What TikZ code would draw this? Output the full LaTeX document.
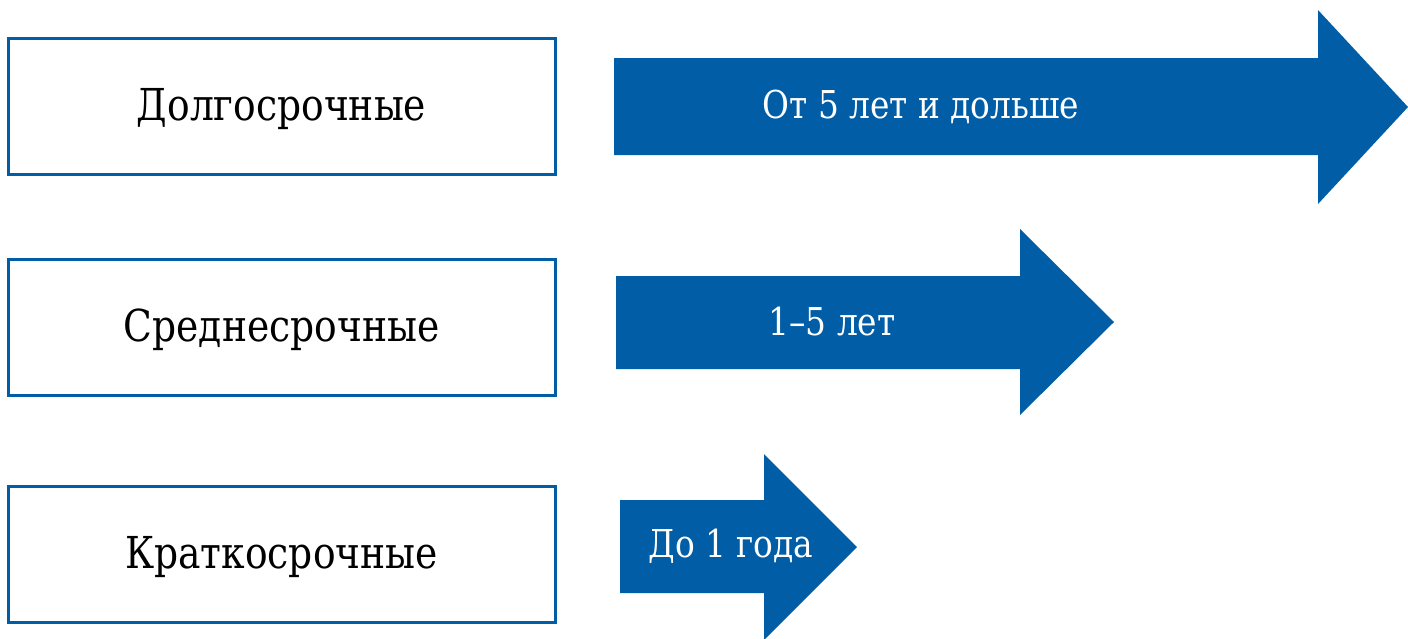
\documentclass[tikz,border=0pt]{standalone}
\usepackage{fontspec}
\setmainfont{DejaVu Serif Condensed}
\newfontfamily\termfont[FakeStretch=0.95]{DejaVu Serif Condensed}
\usepackage{tikz}
\usetikzlibrary{positioning}
\usepackage{xcolor}
\definecolor{termblue}{RGB}{0,93,166}
\tikzset{
  termbox/.style={draw=termblue,line width=1.5pt,minimum width=273.5pt,minimum height=68pt,inner sep=0pt,text height=17pt,text depth=3pt,font=\termfont\fontsize{22}{26}\selectfont},
  termtext/.style={text=white,inner sep=0pt,anchor=base,font=\termfont\fontsize{19.2}{23}\selectfont}
}
\begin{document}
\begin{tikzpicture}[x=0.5pt,y=-0.5pt]
        \useasboundingbox (0,0) rectangle (1408,638);
        % boxes on the left
        \node[termbox] (long) at (281.5,106) {Долгосрочные};
        \node[termbox] (mid) at (281.5,327) {Среднесрочные};
        \node[termbox] (short) at (281.5,554) {Краткосрочные};
        % long arrow
        \fill[termblue] (614,58) -- (1318,58) -- (1318,10) -- (1408,107) -- (1318,204) -- (1318,155) -- (614,155) -- cycle;
        \node[termtext] (longtime) at (921,118) {От 5 лет и дольше};
        % middle arrow
        \fill[termblue] (616,276) -- (1020,276) -- (1020,229) -- (1114,322) -- (1020,415) -- (1020,369) -- (616,369) -- cycle;
        \node[termtext] (midtime) at (832,335) {1–5 лет};
        % short arrow
        \fill[termblue] (620,500) -- (764,500) -- (764,454) -- (857,547) -- (764,640) -- (764,593) -- (620,593) -- cycle;
        \node[termtext] (shorttime) at (731,557) {До 1 года};
\end{tikzpicture}
\end{document}
